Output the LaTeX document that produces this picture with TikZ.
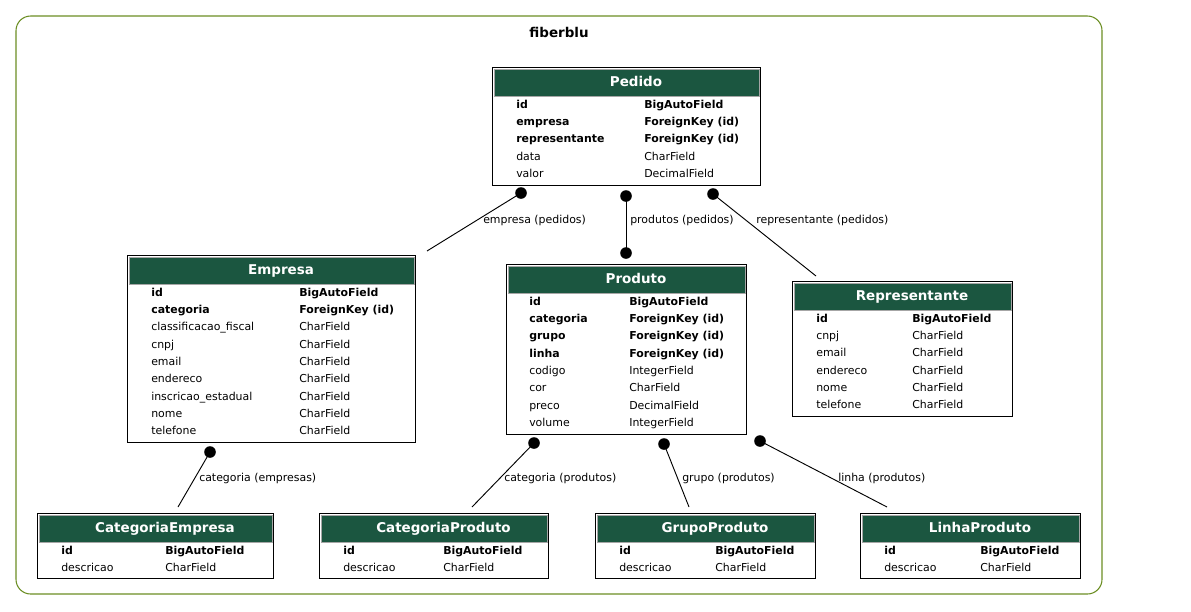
\documentclass[tikz,border=0pt]{standalone}
\usepackage{fontspec}
\setmainfont{DejaVu Sans}
\usetikzlibrary{fit}
\definecolor{hdrgreen}{RGB}{27,86,64}
\definecolor{clustergreen}{RGB}{107,142,35}
\tikzset{
  tbl/.style={draw=black, line width=0.75pt, inner sep=0pt, fill=white},
  hdr/.style={draw=gray!70, line width=0.6pt, fill=hdrgreen, inner sep=0pt},
  hdrtxt/.style={text=white, font=\fontsize{10.1}{12}\selectfont\bfseries, inner sep=0pt},
  kf/.style={font=\fontsize{8.2}{10}\selectfont\bfseries, inner sep=0pt},
  pf/.style={font=\fontsize{8.2}{10}\selectfont, inner sep=0pt},
  elab/.style={font=\fontsize{8.2}{10}\selectfont, inner sep=0pt, anchor=base west},
  conn/.style={draw=black, line width=0.7pt},
  dotend/.style={fill=black}
}
\newcommand\ertable[6]{%
  \node[tbl, fit={(#2,#3) (#4,#5)}] (#1) {};
  \node[hdr, fit={(#2+2,#3+2) (#4-1,#3+29)}] (#1-h) {};
  \node[hdrtxt, anchor=base] (#1-t) at ({(#2+#4)/2+10}, #3+19.5) {#6};
}
\newcommand\erow[8]{%
  \node[#8, anchor=base west] (#1-f#5) at (#2, {#4+41+17.35*#5}) {#6};
  \node[#8, anchor=base west] (#1-y#5) at (#3, {#4+41+17.35*#5}) {#7};
}
\begin{document}
\begin{tikzpicture}[x=0.75pt, y=-0.75pt]
\useasboundingbox (0,0) rectangle (1191,611);
% cluster
\node[draw=clustergreen, line width=0.8pt, rounded corners=11pt, inner sep=0pt, fit={(16,16) (1102,594)}] (cluster) {};
\node[font=\fontsize{10.1}{12}\selectfont\bfseries, anchor=base, inner sep=0pt] (ctitle) at (559,37.5) {fiberblu};

% Pedido
\ertable{ped}{492}{67}{760}{185}{Pedido}
\erow{ped}{516}{644}{67}{0}{id}{BigAutoField}{kf}
\erow{ped}{516}{644}{67}{1}{empresa}{ForeignKey (id)}{kf}
\erow{ped}{516}{644}{67}{2}{representante}{ForeignKey (id)}{kf}
\erow{ped}{516}{644}{67}{3}{data}{CharField}{pf}
\erow{ped}{516}{644}{67}{4}{valor}{DecimalField}{pf}

% Empresa
\ertable{emp}{127}{255}{415}{442}{Empresa}
\erow{emp}{151}{299}{255}{0}{id}{BigAutoField}{kf}
\erow{emp}{151}{299}{255}{1}{categoria}{ForeignKey (id)}{kf}
\erow{emp}{151}{299}{255}{2}{classificacao\_fiscal}{CharField}{pf}
\erow{emp}{151}{299}{255}{3}{cnpj}{CharField}{pf}
\erow{emp}{151}{299}{255}{4}{email}{CharField}{pf}
\erow{emp}{151}{299}{255}{5}{endereco}{CharField}{pf}
\erow{emp}{151}{299}{255}{6}{inscricao\_estadual}{CharField}{pf}
\erow{emp}{151}{299}{255}{7}{nome}{CharField}{pf}
\erow{emp}{151}{299}{255}{8}{telefone}{CharField}{pf}

% Produto
\ertable{pro}{506}{264}{746}{434}{Produto}
\erow{pro}{529}{629}{264}{0}{id}{BigAutoField}{kf}
\erow{pro}{529}{629}{264}{1}{categoria}{ForeignKey (id)}{kf}
\erow{pro}{529}{629}{264}{2}{grupo}{ForeignKey (id)}{kf}
\erow{pro}{529}{629}{264}{3}{linha}{ForeignKey (id)}{kf}
\erow{pro}{529}{629}{264}{4}{codigo}{IntegerField}{pf}
\erow{pro}{529}{629}{264}{5}{cor}{CharField}{pf}
\erow{pro}{529}{629}{264}{6}{preco}{DecimalField}{pf}
\erow{pro}{529}{629}{264}{7}{volume}{IntegerField}{pf}

% Representante
\ertable{rep}{792}{281}{1012}{416}{Representante}
\erow{rep}{816}{912}{281}{0}{id}{BigAutoField}{kf}
\erow{rep}{816}{912}{281}{1}{cnpj}{CharField}{pf}
\erow{rep}{816}{912}{281}{2}{email}{CharField}{pf}
\erow{rep}{816}{912}{281}{3}{endereco}{CharField}{pf}
\erow{rep}{816}{912}{281}{4}{nome}{CharField}{pf}
\erow{rep}{816}{912}{281}{5}{telefone}{CharField}{pf}

% CategoriaEmpresa
\ertable{ce}{37}{513}{273}{578}{CategoriaEmpresa}
\erow{ce}{61}{165}{513}{0}{id}{BigAutoField}{kf}
\erow{ce}{61}{165}{513}{1}{descricao}{CharField}{pf}

% CategoriaProduto
\ertable{cp}{319}{513}{548}{578}{CategoriaProduto}
\erow{cp}{343}{443}{513}{0}{id}{BigAutoField}{kf}
\erow{cp}{343}{443}{513}{1}{descricao}{CharField}{pf}

% GrupoProduto
\ertable{gp}{595}{513}{815}{578}{GrupoProduto}
\erow{gp}{619}{715}{513}{0}{id}{BigAutoField}{kf}
\erow{gp}{619}{715}{513}{1}{descricao}{CharField}{pf}

% LinhaProduto
\ertable{lp}{860}{513}{1080}{578}{LinhaProduto}
\erow{lp}{884}{980}{513}{0}{id}{BigAutoField}{kf}
\erow{lp}{884}{980}{513}{1}{descricao}{CharField}{pf}

% connector end points
\coordinate (d1) at (521,193); \coordinate (e1) at (427,251);
\coordinate (d2) at (626,196); \coordinate (e2) at (626,253);
\coordinate (d3) at (713,194); \coordinate (e3) at (816,276);
\coordinate (d4) at (210,452); \coordinate (e4) at (178,507);
\coordinate (d5) at (534,443); \coordinate (e5) at (472,507);
\coordinate (d6) at (664,444); \coordinate (e6) at (689,507);
\coordinate (d7) at (760,441); \coordinate (e7) at (887,507);

\draw[conn] (d1) -- (e1);
\draw[conn] (d2) -- (e2);
\draw[conn] (d3) -- (e3);
\draw[conn] (d4) -- (e4);
\draw[conn] (d5) -- (e5);
\draw[conn] (d6) -- (e6);
\draw[conn] (d7) -- (e7);
\foreach \p in {d1,d2,e2,d3,d4,d5,d6,d7} \fill[dotend] (\p) circle (5.8);

\node[elab] (l1) at (483,223) {empresa (pedidos)};
\node[elab] (l2) at (630,223) {produtos (pedidos)};
\node[elab] (l3) at (756,223) {representante (pedidos)};
\node[elab] (l4) at (199,481) {categoria (empresas)};
\node[elab] (l5) at (504,481) {categoria (produtos)};
\node[elab] (l6) at (682,481) {grupo (produtos)};
\node[elab] (l7) at (838,481) {linha (produtos)};
\end{tikzpicture}
\end{document}
